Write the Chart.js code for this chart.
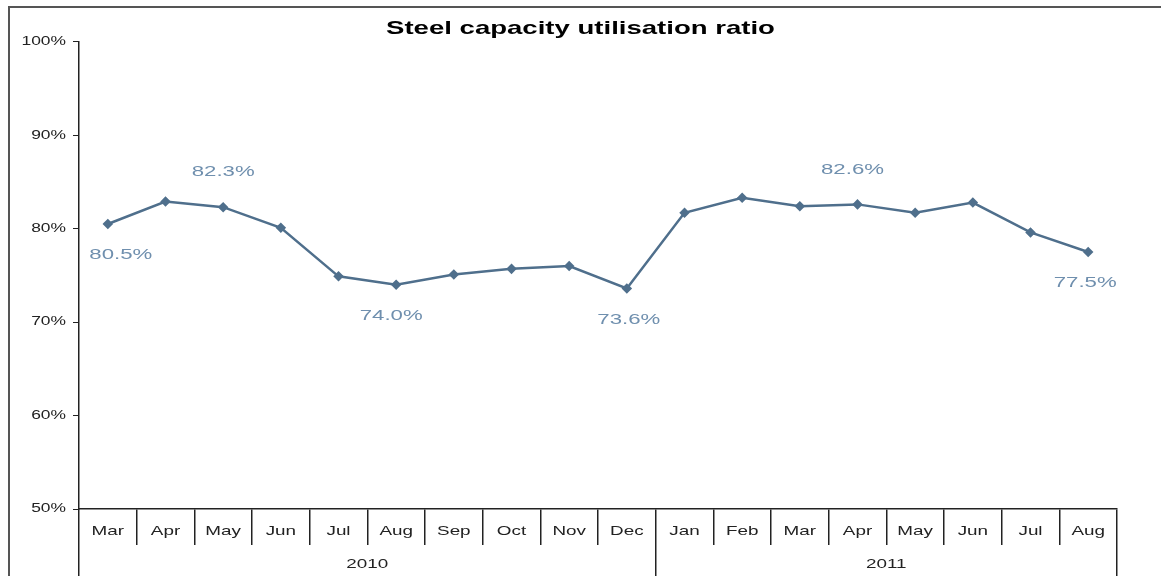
<!DOCTYPE html>
<html>
<head>
<meta charset="utf-8">
<script src="https://cdn.jsdelivr.net/npm/chart.js@4"></script>
<style>
  html, body { margin: 0; padding: 0; background: #fff; }
  #wrap { position: relative; width: 1161px; height: 576px; overflow: hidden; background: #fff; }
  #frame { position: absolute; left: 8px; top: 6px; width: 1200px; height: 600px; z-index: 2;
           border-left: 2px solid #555; border-top: 2px solid #555; pointer-events: none; }
  canvas { position: absolute; left: 0; top: 0; z-index: 1; }
</style>
</head>
<body>
<div id="wrap">
  <canvas id="steelChart" width="1161" height="576"></canvas>
  <div id="frame"></div>
</div>
<script>
// months on the axis, 2010-03 .. 2011-08
const months = ['Mar', 'Apr', 'May', 'Jun', 'Jul', 'Aug', 'Sep', 'Oct', 'Nov', 'Dec',
                'Jan', 'Feb', 'Mar', 'Apr', 'May', 'Jun', 'Jul', 'Aug'];
const years = ['2010', '2011'];
const yearSpans = [10, 8]; // number of months under each year
const utilisation = [80.5, 82.9, 82.3, 80.1, 74.9, 74.0, 75.1, 75.7, 76.0, 73.6,
                     81.7, 83.3, 82.4, 82.6, 81.7, 82.8, 79.6, 77.5];
// which points carry a value label, and whether it sits above the point
const labelledPoints = [0, 2, 5, 9, 13, 17];
const labelAbove = [false, true, false, false, true, false];
const labelNudgeX = [13, 0, -5, 2, -5, -3];
const yTicks = [50, 60, 70, 80, 90, 100];

const lineColor = '#4f6f8c';
const labelColor = '#6f8fae';
const fontFamily = '"Liberation Sans", Arial, sans-serif';

// year boundaries and centres, in month units on the secondary axis
const yearBounds = [0];
const yearCentres = [];
yearSpans.forEach((n, i) => {
  const start = yearBounds[yearBounds.length - 1];
  yearCentres.push(start + n / 2);
  yearBounds.push(start + n);
});

// the source image has its text stretched sideways; fillText is wrapped so
// every string is drawn wider around its own anchor point
let textStretch = 1;
const stretchText = {
  id: 'stretchText',
  afterInit(chart) {
    const c = chart.ctx;
    const fill = c.fillText.bind(c);
    c.fillText = (text, x, y, maxWidth) => {
      if (textStretch === 1) return fill(text, x, y, maxWidth);
      c.save();
      c.translate(x, y);
      c.scale(textStretch, 1);
      fill(text, 0, 0);
      c.restore();
    };
  },
  beforeDraw() { textStretch = 1.45; },
  afterDraw() { textStretch = 1; }
};

// draws the value labels next to selected points
const pointLabels = {
  id: 'pointLabels',
  afterDatasetsDraw(chart) {
    const ctx = chart.ctx;
    const meta = chart.getDatasetMeta(0);
    ctx.save();
    textStretch = 1.48;
    ctx.font = '15px ' + fontFamily;
    ctx.fillStyle = labelColor;
    ctx.textAlign = 'center';
    ctx.textBaseline = 'middle';
    labelledPoints.forEach((idx, k) => {
      const pt = meta.data[idx];
      const dy = labelAbove[k] ? -35 : 31;
      ctx.fillText(utilisation[idx].toFixed(1) + '%', pt.x + labelNudgeX[k], pt.y + dy);
    });
    ctx.restore();
    textStretch = 1.41; // title is drawn after this (z: 1)
  }
};

const ctx = document.getElementById('steelChart').getContext('2d');
new Chart(ctx, {
  type: 'line',
  data: {
    labels: months,
    datasets: [{
      data: utilisation,
      borderColor: lineColor,
      backgroundColor: lineColor,
      borderWidth: 2.5,
      pointStyle: 'rectRot',
      pointRadius: 3.5,
      pointBackgroundColor: lineColor,
      pointBorderColor: lineColor,
      tension: 0,
      fill: false
    }]
  },
  options: {
    responsive: false,
    animation: false,
    layout: { padding: 0 },
    plugins: {
      legend: { display: false },
      tooltip: { enabled: false },
      title: {
        display: true,
        z: 1,
        text: 'Steel capacity utilisation ratio',
        color: '#000',
        font: { family: fontFamily, size: 19, weight: 'bold', lineHeight: 1.2 },
        padding: { top: 17, bottom: 2 }
      }
    },
    scales: {
      y: {
        min: 50,
        max: 100,
        afterBuildTicks: s => { s.ticks = yTicks.map(v => ({ value: v })); },
        afterFit: s => { s.width = 79; },
        border: { display: true, color: '#222', width: 1.5 },
        grid: { drawOnChartArea: false, color: '#222', tickLength: 6, lineWidth: 1 },
        ticks: {
          color: '#222',
          font: { family: fontFamily, size: 12 },
          padding: 7,
          callback: v => v + '%'
        }
      },
      // empty right-hand axis that only keeps the space right of the plot
      yRight: {
        position: 'right',
        afterFit: s => { s.width = 44; },
        border: { display: false },
        grid: { display: false },
        ticks: { display: false }
      },
      x: {
        type: 'category',
        offset: true,
        afterFit: s => { s.height = 36; },
        border: { display: true, color: '#222', width: 1.5 },
        grid: { offset: true, drawOnChartArea: false, color: '#222', tickLength: 36, lineWidth: 1.5 },
        ticks: {
          color: '#222',
          font: { family: fontFamily, size: 13 },
          padding: -21,
          maxRotation: 0,
          autoSkip: false
        }
      },
      x2: {
        type: 'linear',
        position: 'bottom',
        min: 0,
        max: months.length,
        afterBuildTicks: s => {
          s.ticks = yearBounds.concat(yearCentres).sort((a, b) => a - b).map(v => ({ value: v }));
        },
        afterFit: s => { s.height = 31; },
        border: { display: false },
        grid: {
          drawOnChartArea: false,
          tickLength: 31,
          lineWidth: 1.5,
          color: c => (c.tick && yearBounds.includes(c.tick.value)) ? '#222' : 'rgba(0,0,0,0)'
        },
        ticks: {
          color: '#222',
          font: { family: fontFamily, size: 13 },
          padding: -19,
          maxRotation: 0,
          autoSkip: false,
          callback: v => {
            const i = yearCentres.indexOf(v);
            return i >= 0 ? years[i] : '';
          }
        }
      }
    }
  },
  plugins: [stretchText, pointLabels]
});
</script>
</body>
</html>
